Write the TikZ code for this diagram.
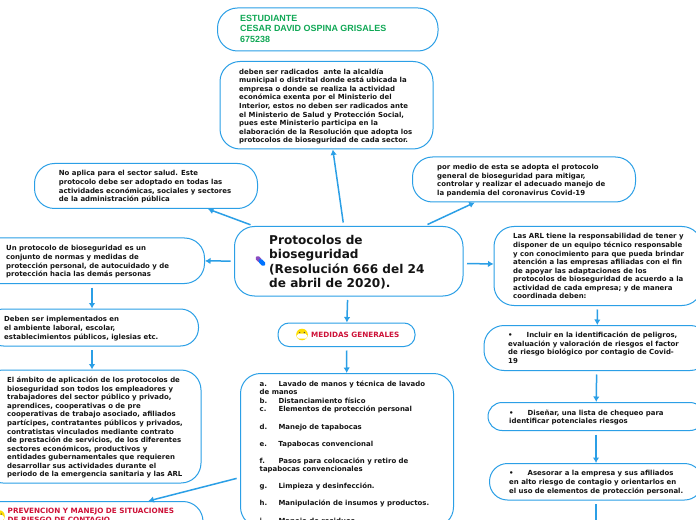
\documentclass[tikz,border=0pt]{standalone}
\usepackage{fontspec}
\setmainfont{DejaVu Sans}
\newfontfamily\arialf{Liberation Sans}
\definecolor{lnblue}{HTML}{2B9FE6}
\definecolor{inkk}{HTML}{141414}
\definecolor{redt}{HTML}{CE1238}
\definecolor{greent}{HTML}{10A855}
\tikzset{
  boxnode/.style={draw=lnblue,line width=1bp,fill=white,inner sep=0pt},
  txt/.style={anchor=north west,inner sep=0pt,align=left,text=inkk,font=\fontsize{6.95bp}{8.55bp}\selectfont\bfseries},
  redtxt/.style={txt,text=redt,font=\fontsize{7.25bp}{8.8bp}\selectfont\bfseries},
  conn/.style={draw=lnblue,line width=1.5bp,-{Latex[length=5.5bp,width=6.5bp]},shorten <=3.5bp,shorten >=0pt},
}
\usetikzlibrary{arrows.meta}
% name x0 y0 x1 y1 radius
\newcommand{\bxx}[6]{\node[boxnode,rounded corners=#6bp,minimum width={(#4-#2)*1bp},minimum height={(#5-#3)*1bp}] (#1) at ({(#2+#4)/2},{(#3+#5)/2}) {};}
\newcommand{\tabm}[1]{\makebox[18.8bp][l]{#1}}
\begin{document}
\begin{tikzpicture}[x=1bp,y=-1bp]
\clip (0,0) rectangle (696,520);
\fill[white] (0,0) rectangle (696,520);
\bxx{est}{217.5}{8}{438}{51}{20}
\bxx{deben}{220}{61.5}{433}{149}{20}
\bxx{noap}{34.5}{163.5}{257.5}{208.5}{20}
\bxx{pormed}{412.5}{157}{635.5}{202}{20}
\bxx{cen}{234.5}{226.5}{463}{296}{20}
\bxx{unp}{-20.5}{238}{204.5}{283.5}{20}
\bxx{impl}{-14.5}{309}{198.5}{346}{18}
\bxx{amb}{-17}{370}{201}{483}{20}
\bxx{prev}{-61}{501.5}{203}{540}{20}
\bxx{med}{278}{323}{415}{346.5}{11}
\bxx{lista}{240.5}{373.5}{453.5}{527}{20}
\bxx{arl}{494}{226.5}{702}{305.5}{20}
\bxx{incl}{484}{325.5}{710}{370.5}{20}
\bxx{dis}{488}{402.5}{704}{430.5}{14}
\bxx{ases}{489.5}{463.5}{702.5}{500}{18}
\coordinate (nextc) at (596,525);

\draw[conn] (cen) -- (deben);
\draw[conn] (cen) -- (noap);
\draw[conn] (cen) -- (pormed);
\draw[conn] (cen) -- (unp);
\draw[conn] (cen) -- (arl);
\draw[conn] (cen) -- (med);
\draw[conn] (med) -- (lista);
\draw[conn] (unp) -- (impl);
\draw[conn] (impl) -- (amb);
\draw[conn] (lista) -- (prev);
\draw[conn] (arl) -- (incl);
\draw[conn] (incl) -- (dis);
\draw[conn] (dis) -- (ases);
\draw[conn,-] (ases) -- (nextc);

\node[txt,text=greent,font=\arialf\fontsize{8.95bp}{10.5bp}\selectfont\bfseries] (test) at (240,14.7) {ESTUDIANTE\\CESAR DAVID OSPINA GRISALES\\675238};
\node[txt] (tdeben) at (239,68.5) {deben ser radicados\ \ ante la alcaldía\\municipal o distrital donde está ubicada la\\empresa o donde se realiza la actividad\\económica exenta por el Ministerio del\\Interior, estos no deben ser radicados ante\\el Ministerio de Salud y Protección Social,\\pues este Ministerio participa en la\\elaboración de la Resolución que adopta los\\protocolos de bioseguridad de cada sector.};
\node[txt] (tnoap) at (58.7,170.5) {No aplica para el sector salud. Este\\protocolo debe ser adoptado en todas las\\actividades económicas, sociales y sectores\\de la administración pública};
\node[txt] (tpor) at (437,164) {por medio de esta se adopta el protocolo\\general de bioseguridad para mitigar,\\controlar y realizar el adecuado manejo de\\la pandemia del coronavirus Covid-19};
\node[txt,font=\fontsize{12.1bp}{14.4bp}\selectfont\bfseries] (tcen) at (269,235) {Protocolos de\\bioseguridad\\(Resolución 666 del 24\\de abril de 2020).};
\node[txt] (tunp) at (6,245.5) {Un protocolo de bioseguridad es un\\conjunto de normas y medidas de\\protección personal, de autocuidado y de\\protección hacia las demás personas};
\node[txt] (timpl) at (4,316.5) {Deben ser implementados en\\el ambiente laboral, escolar,\\establecimientos públicos, iglesias etc.};
\node[txt] (tamb) at (7,377) {El ámbito de aplicación de los protocolos de\\bioseguridad son todos los empleadores y\\trabajadores del sector público y privado,\\aprendices, cooperativas o de pre\\cooperativas de trabajo asociado, afiliados\\partícipes, contratantes públicos y privados,\\contratistas vinculados mediante contrato\\de prestación de servicios, de los diferentes\\sectores económicos, productivos y\\entidades gubernamentales que requieren\\desarrollar sus actividades durante el\\periodo de la emergencia sanitaria y las ARL};
\node[redtxt] (tprev) at (7.5,508) {PREVENCION Y MANEJO DE SITUACIONES\\DE RIESGO DE CONTAGIO};
\node[redtxt] (tmed) at (311,332) {MEDIDAS GENERALES};
\node[txt] (tlista) at (259.5,380.5) {\tabm{a.}Lavado de manos y técnica de lavado\\de manos\\\tabm{b.}Distanciamiento físico\\\tabm{c.}Elementos de protección personal\\[8.55bp]\tabm{d.}Manejo de tapabocas\\[8.55bp]\tabm{e.}Tapabocas convencional\\[8.55bp]\tabm{f.}Pasos para colocación y retiro de\\tapabocas convencionales\\[8.55bp]\tabm{g.}Limpieza y desinfección.\\[8.55bp]\tabm{h.}Manipulación de insumos y productos.\\[8.55bp]\tabm{i.}Manejo de residuos};
\node[txt] (tarl) at (513,233.5) {Las ARL tiene la responsabilidad de tener y\\disponer de un equipo técnico responsable\\y con conocimiento para que pueda brindar\\atención a las empresas afiliadas con el fin\\de apoyar las adaptaciones de los\\protocolos de bioseguridad de acuerdo a la\\actividad de cada empresa; y de manera\\coordinada deben:};
\node[txt] (tincl) at (508,332) {\makebox[18.5bp][l]{•}Incluir en la identificación de peligros,\\evaluación y valoración de riesgos el factor\\de riesgo biológico por contagio de Covid-\\19};
\node[txt] (tdis) at (509,409.5) {\makebox[18.5bp][l]{•}Diseñar, una lista de chequeo para\\identificar potenciales riesgos};
\node[txt] (tases) at (509,470.5) {\makebox[18.5bp][l]{•}Asesorar a la empresa y sus afiliados\\en alto riesgo de contagio y orientarlos en\\el uso de elementos de protección personal.};

% pill icon
\begin{scope}[shift={(260.5,261)},rotate=-45]
\fill[violet!70!blue!70!white,rounded corners=1.8bp] (-6,-2.2) rectangle (1,2.2);
\fill[blue!55!cyan,rounded corners=1.8bp] (-2,-2.2) rectangle (6,2.2);
\end{scope}
% mask emoji icons
\foreach \px/\py in {302/334.5,-1/516}{
\begin{scope}[shift={(\px,\py)}]
\fill[yellow!80!orange] (0,0) circle (5.8);
\fill[white,rounded corners=1.5bp] (-4.8,-0.8) rectangle (4.8,4.2);
\fill[black!70] (-2.3,-2) circle (0.7) (2.3,-2) circle (0.7);
\end{scope}}
\end{tikzpicture}
\end{document}
